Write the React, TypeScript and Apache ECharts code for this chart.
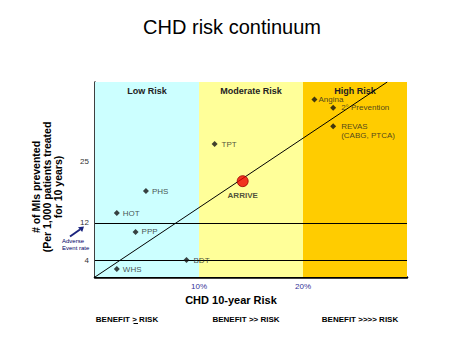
import React, { useEffect, useRef } from "react";
import * as echarts from "echarts";

const studyNames = ["WHS", "HOT", "PPP", "PHS", "BDT", "TPT", "Angina", "2° Prevention", "REVAS\n(CABG, PTCA)"];
const riskPct = [2.1, 2.1, 3.9, 4.9, 8.8, 11.5, 21.1, 22.9, 22.9];
const misPrevented = [2.2, 14.1, 10.1, 18.8, 4.1, 28.8, 38.3, 36.5, 32.6];
const arriveName = "ARRIVE";
const arriveRisk = [14.2];
const arriveMIs = [20.9];
const zoneNames = ["Low Risk", "Moderate Risk", "High Risk"];
const zoneBounds = [0, 10, 20, 30];
const xTickValues = [10, 20];
const yTickValues = [4, 12, 25];
const thresholdValues = [12, 4];
const trendX = [0, 28.1];
const trendY = [0.5, 42];
const benefitLabels = ["BENEFIT > RISK", "BENEFIT >> RISK", "BENEFIT >>>> RISK"];

const FONT = "'Liberation Sans', Arial, sans-serif";
const zoneColors = ["#CCFFFF", "#FFFF99", "#FFCC00"];
const labelDistances: Record<string, number> = { Angina: 1, "2° Prevention": 5, "REVAS\n(CABG, PTCA)": 5, TPT: 4, BDT: 4 };

export default function App() {
  const ref = useRef<HTMLDivElement>(null);
  useEffect(() => {
    if (!ref.current) return;
    const chart = echarts.init(ref.current, null, { renderer: "svg" });
    const studies = studyNames.map((n, i) => ({
      name: n,
      value: [riskPct[i], misPrevented[i]],
      label: {
        distance: labelDistances[n] ?? 3,
        offset: n.indexOf("\n") >= 0 ? [0, 4.5] : [0, 0],
      },
    }));
    chart.setOption({
      animation: false,
      backgroundColor: "#ffffff",
      textStyle: { fontFamily: FONT },
      grid: { left: 95, top: 82, right: 56, bottom: 74, containLabel: false },
      xAxis: {
        type: "value",
        min: 0,
        max: 30,
        axisLine: { show: true, onZero: false, lineStyle: { color: "#000", width: 2.5 } },
        axisTick: { show: false },
        splitLine: { show: false },
        axisLabel: {
          customValues: xTickValues,
          formatter: (v: number) => v + "%",
          color: "#333399",
          fontSize: 8,
          margin: 5,
          fontFamily: FONT,
        },
      },
      yAxis: {
        type: "value",
        min: 0.5,
        max: 42,
        axisLine: { show: true, onZero: false, lineStyle: { color: "#000", width: 1.5 } },
        axisTick: { show: false },
        splitLine: { show: false },
        axisLabel: {
          customValues: yTickValues,
          color: "#333",
          fontSize: 8,
          margin: 6,
          fontFamily: FONT,
        },
      },
      series: [
        {
          type: "line",
          data: trendX.map((x, i) => [x, trendY[i]]),
          symbol: "none",
          lineStyle: { color: "#000", width: 1 },
          z: 3,
          markArea: {
            silent: true,
            data: zoneNames.map((n, i) => [
              {
                name: n,
                xAxis: zoneBounds[i],
                itemStyle: { color: zoneColors[i] },
              },
              { xAxis: zoneBounds[i + 1] },
            ]),
            label: {
              show: true,
              position: "insideTop",
              distance: 4,
              fontSize: 9,
              fontWeight: "bold",
              color: "#222",
              fontFamily: FONT,
            },
          },
          markLine: {
            silent: true,
            symbol: "none",
            label: { show: false },
            lineStyle: { color: "#000", width: 1, type: "solid" },
            data: thresholdValues.map((v) => ({ yAxis: v })),
          },
        },
        {
          type: "scatter",
          data: studies,
          symbol: "diamond",
          symbolSize: 6,
          itemStyle: { color: "#111" },
          z: 5,
          label: {
            show: true,
            position: "right",
            formatter: (p: any) => p.name,
            fontSize: 8,
            lineHeight: 9,
            color: "#222",
            fontFamily: FONT,
          },
        },
        {
          type: "scatter",
          data: arriveRisk.map((x, i) => ({ name: arriveName, value: [x, arriveMIs[i]] })),
          symbol: "circle",
          symbolSize: 11,
          itemStyle: { color: "#EE0000", borderColor: "#990000", borderWidth: 1 },
          z: 6,
          label: {
            show: true,
            position: "bottom",
            distance: 4,
            formatter: (p: any) => p.name,
            fontSize: 8,
            fontWeight: "bold",
            color: "#222",
            fontFamily: FONT,
          },
        },
      ],
      graphic: [
        {
          type: "text",
          x: 232,
          y: 27,
          style: { text: "CHD risk continuum", fontSize: 20, fontFamily: FONT, fill: "#000", textAlign: "center", textVerticalAlign: "middle" },
        },
        {
          type: "text",
          x: 47,
          y: 187,
          rotation: Math.PI / 2,
          style: {
            text: "# of MIs prevented\n(Per 1,000 patients treated\nfor 10 years)",
            fontSize: 10.5,
            lineHeight: 11,
            fontWeight: "bold",
            fontFamily: FONT,
            fill: "#000",
            textAlign: "center",
            textVerticalAlign: "middle",
          },
        },
        {
          type: "text",
          x: 231,
          y: 300,
          style: { text: "CHD 10-year Risk", fontSize: 11, fontWeight: "bold", fontFamily: FONT, fill: "#000", textAlign: "center", textVerticalAlign: "middle" },
        },
        ...benefitLabels.map((t, i) => ({
          type: "text",
          x: [127, 246, 360][i],
          y: 319,
          style: { text: t, fontSize: 8, fontWeight: "bold", fontFamily: FONT, fill: "#000", textAlign: "center", textVerticalAlign: "middle" },
        })),
        {
          type: "line",
          shape: { x1: 133.5, y1: 323.5, x2: 138, y2: 323.5 },
          style: { stroke: "#000", lineWidth: 1 },
        },
        {
          type: "text",
          x: 62,
          y: 244.5,
          style: { text: "Adverse\nEvent rate", fontSize: 6, lineHeight: 7, fontFamily: FONT, fill: "#000066", textAlign: "left", textVerticalAlign: "middle" },
        },
        {
          type: "line",
          shape: { x1: 70, y1: 236.5, x2: 80, y2: 229.5 },
          style: { stroke: "#1a237e", lineWidth: 2 },
        },
        {
          type: "polygon",
          shape: { points: [[84, 226.5], [82.2, 232], [78, 227.3]] },
          style: { fill: "#1a237e" },
        },
      ],
    });
    return () => chart.dispose();
  }, []);
  return <div ref={ref} style={{ position: "absolute", left: 0, top: 0, width: 463, height: 351 }} />;
}
